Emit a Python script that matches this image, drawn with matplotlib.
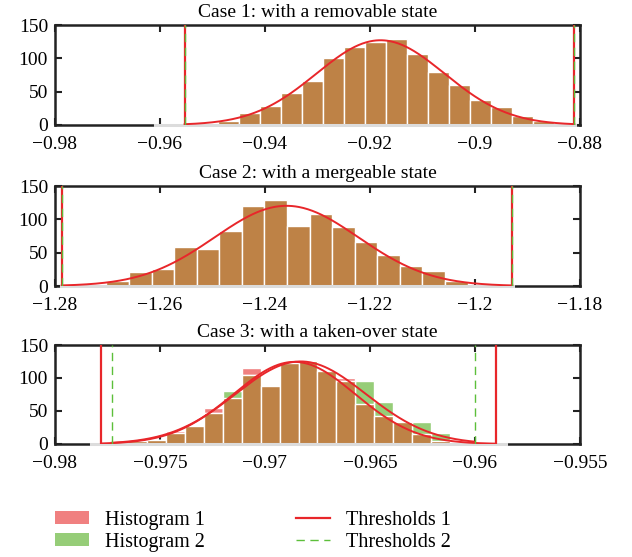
#!/usr/bin/env python3

import numpy as np
import matplotlib
matplotlib.use('Agg')
import matplotlib.pyplot as plt
from matplotlib.patches import Patch
from matplotlib.lines import Line2D
from matplotlib.ticker import FuncFormatter, MultipleLocator

plt.rcParams['font.family'] = 'Liberation Serif'
plt.rcParams['font.size'] = 13.5

RED_HIST = '#f08080'
GREEN_HIST = '#96cd78'
OVERLAP = '#be8246'
RED_LINE = '#e8262a'
GREEN_LINE = '#5cbf3a'

# case 1: removable state (both histograms coincide)
case1_start = -0.961
case1_width = 0.004
case1_counts = [0, 1, 1, 6, 18, 29, 48, 66, 101, 117, 125, 129, 106, 80, 60, 37, 27, 13, 6, 2]
case1_fit = (-0.918, 0.0122)
case1_thr1 = [-0.9553, -0.8811]
case1_thr2 = [-0.9553, -0.8811]

# case 2: mergeable state
case2_start = -1.2788
case2_width = 0.0043
case2_counts = [0, 0, 7, 21, 26, 59, 56, 83, 120, 129, 90, 108, 89, 66, 46, 30, 23, 8, 0, 0]
case2_fit = (-1.2359, 0.0137)
case2_thr1 = [-1.2787, -1.1929]
case2_thr2 = [-1.2787, -1.1929]

# case 3: taken-over state
case3_start = -0.9783
case3_width = 0.0009
case3_counts1 = [0, 1, 4, 6, 19, 27, 54, 70, 115, 88, 125, 126, 112, 100, 60, 43, 33, 15, 4, 2, 1, 0]
case3_counts2 = [0, 1, 4, 6, 17, 29, 47, 81, 105, 89, 122, 127, 110, 96, 95, 63, 35, 33, 16, 3, 1, 0]
case3_fit1 = (-0.9686, 0.0029)
case3_fit2 = (-0.9683, 0.0031)
case3_thr1 = [-0.9778, -0.9590]
case3_thr2 = [-0.9773, -0.9600]


def fmt(v, pos):
    return f'{v:g}'.replace('-', '\u2212')


def gauss_curve(ax, counts, width, fit, thr):
    mu, sigma = fit
    amp = np.sum(counts) * width / (sigma * np.sqrt(2 * np.pi))
    x = np.linspace(thr[0], thr[1], 400)
    ax.plot(x, amp * np.exp(-0.5 * ((x - mu) / sigma) ** 2),
            color=RED_LINE, lw=1.4, zorder=5)


def plotCase(ax, title, start, width, counts1, counts2, fits, thr1, thr2, xlim, xstep):
    counts1 = np.asarray(counts1)
    counts2 = np.asarray(counts2)
    edges = start + width * np.arange(len(counts1) + 1)
    left = edges[:-1]
    kw = dict(width=width, align='edge', edgecolor='white', linewidth=1.0)
    ax.bar(left, counts1, color=RED_HIST, zorder=2, **kw)
    ax.bar(left, counts2, color=GREEN_HIST, zorder=2, **kw)
    ax.bar(left, np.minimum(counts1, counts2), color=OVERLAP, zorder=3, **kw)
    # pale baseline where the bins run
    ax.plot([edges[0], edges[-1]], [0, 0], color='#dcdcdc', lw=2.2,
            clip_on=False, zorder=4)

    for c, f, t in zip((counts1, counts2), fits, (thr1, thr2)):
        if f is not None:
            gauss_curve(ax, c, width, f, t)

    for t in thr1:
        ax.axvline(t, color=RED_LINE, lw=1.6, zorder=6)
    for t in thr2:
        ax.axvline(t, color=GREEN_LINE, lw=1.0, ls=(0, (6, 4)), zorder=7)

    ax.set_xlim(*xlim)
    ax.set_ylim(0, 150)
    ax.xaxis.set_major_locator(MultipleLocator(xstep))
    ax.yaxis.set_major_locator(MultipleLocator(50))
    ax.xaxis.set_major_formatter(FuncFormatter(fmt))
    ax.tick_params(direction='in', top=True, right=True, length=5, width=1.5,
                   color='#222222', labelsize=14)
    ax.tick_params(axis='x', pad=8)
    ax.tick_params(axis='y', pad=5)
    for s in ax.spines.values():
        s.set_linewidth(1.8)
        s.set_color('#222222')
    ax.set_title(title, fontsize=14, pad=6)


def main():
    fig = plt.figure(figsize=(6.32, 5.57), dpi=100)
    ax1 = fig.add_axes([0.087, 0.7756, 0.8307, 0.1795])
    ax2 = fig.add_axes([0.087, 0.4865, 0.8307, 0.1795])
    ax3 = fig.add_axes([0.087, 0.2029, 0.8307, 0.1777])

    plotCase(ax1, 'Case 1: with a removable state', case1_start, case1_width,
             case1_counts, case1_counts, (case1_fit, None), case1_thr1, case1_thr2,
             (-0.98, -0.88), 0.02)
    plotCase(ax2, 'Case 2: with a mergeable state', case2_start, case2_width,
             case2_counts, case2_counts, (case2_fit, None), case2_thr1, case2_thr2,
             (-1.28, -1.18), 0.02)
    plotCase(ax3, 'Case 3: with a taken-over state', case3_start, case3_width,
             case3_counts1, case3_counts2, (case3_fit1, case3_fit2), case3_thr1, case3_thr2,
             (-0.98, -0.955), 0.005)

    handles = [
        Patch(facecolor=RED_HIST, edgecolor='none'),
        Patch(facecolor=GREEN_HIST, edgecolor='none'),
        Line2D([], [], color=RED_LINE, lw=1.6),
        Line2D([], [], color=GREEN_LINE, lw=1.0, ls=(0, (6, 4))),
    ]
    labels = ['Histogram 1', 'Histogram 2', 'Thresholds 1', 'Thresholds 2']
    fig.legend(handles, labels, ncol=2, frameon=False, loc='center left',
               bbox_to_anchor=(0.087, 0.046), fontsize=14.5, handlelength=1.7,
               handleheight=0.6, handletextpad=0.8, columnspacing=4.5,
               labelspacing=0.15, borderpad=0, borderaxespad=0)

    fig.savefig('out.png', dpi=100)


if __name__ == '__main__':
    main()
